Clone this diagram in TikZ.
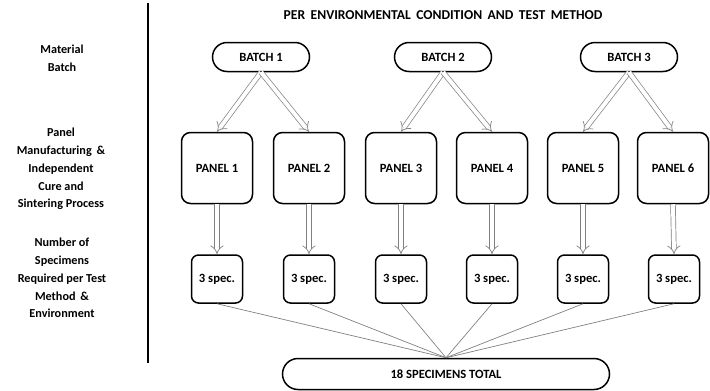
\documentclass[tikz,border=0pt]{standalone}
\usepackage{fontspec}
\setmainfont{Carlito}
\usetikzlibrary{arrows.meta,shapes.misc,positioning}

\begin{document}
\begin{tikzpicture}[x=1pt,y=-1pt,
    txt/.style={font=\bfseries\fontsize{12.6}{13}\selectfont},
    sidelabel/.style={align=center,font=\bfseries\fontsize{12.2}{17.8}\selectfont},
    batchbox/.style={txt,draw,line width=1.5pt,rounded rectangle,minimum width=97pt,minimum height=29pt,inner sep=0pt},
    panelbox/.style={txt,draw,line width=1.5pt,rounded corners=9pt,minimum width=71pt,minimum height=71pt,inner sep=0pt},
    specbox/.style={txt,draw,line width=1.5pt,rounded corners=7pt,minimum width=51pt,minimum height=48pt,inner sep=0pt},
    totalbox/.style={txt,draw,line width=1.5pt,rounded rectangle,minimum width=327pt,minimum height=31pt,inner sep=0pt},
    hollow/.style={draw=gray,line width=0.7pt,double=white,double distance=4pt,-{Implies[length=6pt]}},
    joinline/.style={draw=gray,line width=0.7pt}]
  \useasboundingbox (0,0) rectangle (710,391);

  % left column
  \draw[line width=2pt] (148,3) coordinate (divtop) -- (148,363) coordinate (divbot);
  \node[sidelabel] (lblbatch) at (62,58) {Material\\Batch};
  \node[sidelabel] (lblpanel) at (61,169) {Panel\\Manufacturing \,\&\\Independent\\Cure and\\Sintering Process};
  \node[sidelabel] (lblspec) at (62,278) {Number of\\Specimens\\Required per Test\\Method \,\&\\Environment};

  \node[txt,font=\bfseries\fontsize{13.6}{14}\selectfont] (title) at (443,15) {\spaceskip=5.5pt plus 1pt\relax PER ENVIRONMENTAL CONDITION AND TEST METHOD};

  % batches
  \node[batchbox] (batch1) at (261,57) {BATCH 1};
  \node[batchbox] (batch2) at (443,57) {BATCH 2};
  \node[batchbox] (batch3) at (629,57) {BATCH 3};

  % panels
  \node[panelbox] (panel1) at (217,168) {PANEL 1};
  \node[panelbox] (panel2) at (309,168) {PANEL 2};
  \node[panelbox] (panel3) at (401,168) {PANEL 3};
  \node[panelbox] (panel4) at (492,168) {PANEL 4};
  \node[panelbox] (panel5) at (583,168) {PANEL 5};
  \node[panelbox] (panel6) at (673,168) {PANEL 6};

  % specimens
  \node[specbox] (spec1) at (217,279) {3 spec.};
  \node[specbox] (spec2) at (309,279) {3 spec.};
  \node[specbox] (spec3) at (401,279) {3 spec.};
  \node[specbox] (spec4) at (492,279) {3 spec.};
  \node[specbox] (spec5) at (583,279) {3 spec.};
  \node[specbox] (spec6) at (674,279) {3 spec.};

  \node[totalbox] (total) at (446,374) {18 SPECIMENS TOTAL};

  % batch -> panel
  \draw[hollow] (batch1.south) -- (panel1.north);
  \draw[hollow] (batch1.south) -- (panel2.north);
  \draw[hollow] (batch2.south) -- (panel3.north);
  \draw[hollow] (batch2.south) -- (panel4.north);
  \draw[hollow] (batch3.south) -- (panel5.north);
  \draw[hollow] (batch3.south) -- (panel6.north);

  % panel -> specimens
  \draw[hollow] (panel1.south) -- (spec1.north);
  \draw[hollow] (panel2.south) -- (spec2.north);
  \draw[hollow] (panel3.south) -- (spec3.north);
  \draw[hollow] (panel4.south) -- (spec4.north);
  \draw[hollow] (panel5.south) -- (spec5.north);
  \draw[hollow] (panel6.south) -- (spec6.north);

  % specimens -> total
  \draw[joinline] (spec1.south) -- (total.north);
  \draw[joinline] (spec2.south) -- (total.north);
  \draw[joinline] (spec3.south) -- (total.north);
  \draw[joinline] (spec4.south) -- (total.north);
  \draw[joinline] (spec5.south) -- (total.north);
  \draw[joinline] (spec6.south) -- (total.north);
\end{tikzpicture}
\end{document}
